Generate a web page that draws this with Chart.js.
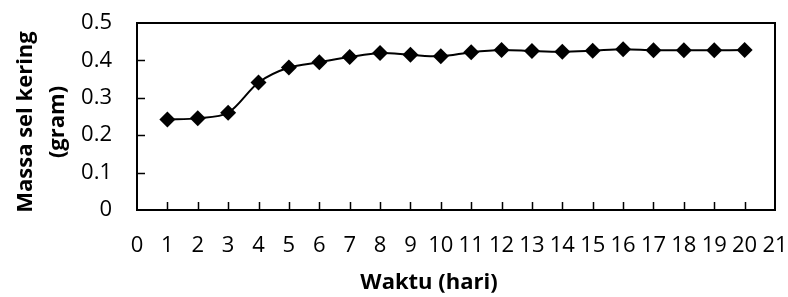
<!DOCTYPE html>
<html>
<head>
<meta charset="utf-8">
<script src="https://cdn.jsdelivr.net/npm/chart.js@4/dist/chart.umd.min.js"></script>
<style>
  html, body { margin: 0; padding: 0; background: #ffffff; }
  #wrap { width: 788px; height: 297px; position: relative; }
</style>
</head>
<body>
<div id="wrap"><canvas id="c" width="788" height="297"></canvas></div>
<script>
// ---- data ----
const days = [1, 2, 3, 4, 5, 6, 7, 8, 9, 10, 11, 12, 13, 14, 15, 16, 17, 18, 19, 20];
const dryMass = [0.242, 0.245, 0.260, 0.341, 0.381, 0.395, 0.409, 0.420, 0.415, 0.411,
                 0.422, 0.428, 0.425, 0.423, 0.426, 0.430, 0.427, 0.427, 0.427, 0.428];
const xTickLabels = ['0','1','2','3','4','5','6','7','8','9','10','11','12','13','14','15','16','17','18','19','20','21'];
const yTickLabels = ['0','0.1','0.2','0.3','0.4','0.5'];
const xTitle = 'Waktu (hari)';
const yTitle = ['Massa sel kering', '(gram)'];

const FONT = "'Open Sans', 'Noto Sans', sans-serif";

const points = days.map((d, i) => ({ x: d, y: dryMass[i] }));

function noOverflow(s) {
  s.paddingTop = 0; s.paddingBottom = 0; s.paddingLeft = 0; s.paddingRight = 0;
}

const framePlugin = {
  id: 'frame',
  beforeDatasetsDraw(chart) {
    const { ctx, chartArea: a, scales } = chart;
    ctx.save();
    ctx.strokeStyle = '#000';
    ctx.lineWidth = 2;
    ctx.strokeRect(a.left, a.top, a.right - a.left, a.bottom - a.top);
    ctx.lineWidth = 1.5;
    ctx.beginPath();
    scales.x.ticks.forEach(t => {
      if (t.value <= scales.x.min || t.value >= scales.x.max) return;
      const px = Math.round(scales.x.getPixelForValue(t.value)) + 0.5;
      ctx.moveTo(px, a.bottom);
      ctx.lineTo(px, a.bottom - 8);
    });
    scales.y.ticks.forEach(t => {
      if (t.value <= scales.y.min + 1e-9 || t.value >= scales.y.max - 1e-9) return;
      const py = Math.round(scales.y.getPixelForValue(t.value)) + 0.5;
      ctx.moveTo(a.left, py);
      ctx.lineTo(a.left + 8, py);
    });
    ctx.stroke();
    ctx.restore();
  },
  afterDraw(chart) {
    const { ctx } = chart;
    ctx.save();
    ctx.fillStyle = '#000';
    ctx.font = "bold 22px " + FONT;
    ctx.textAlign = 'center';
    ctx.textBaseline = 'middle';
    ctx.fillText(xTitle, 429, 283);
    // y-axis title, two rotated lines
    ctx.translate(0, 122);
    ctx.rotate(-Math.PI / 2);
    ctx.fillText(yTitle[0], 0, 26);
    ctx.fillText(yTitle[1], 0, 58);
    ctx.restore();
  }
};

new Chart(document.getElementById('c'), {
  type: 'line',
  data: {
    datasets: [{
      data: points,
      borderColor: '#000',
      backgroundColor: '#000',
      borderWidth: 2,
      tension: 0.3,
      pointStyle: 'rectRot',
      pointRadius: 8,
      pointHoverRadius: 8,
      pointBackgroundColor: '#000',
      pointBorderColor: '#000',
      pointBorderWidth: 0,
      fill: false
    }]
  },
  options: {
    responsive: false,
    animation: false,
    events: [],
    layout: { padding: { top: 23, right: 13, left: 0, bottom: 0 } },
    plugins: { legend: { display: false }, tooltip: { enabled: false } },
    scales: {
      x: {
        type: 'linear',
        min: 0, max: 21,
        afterFit(s) { s.height = 87; noOverflow(s); },
        border: { display: false },
        grid: { display: false, drawTicks: false },
        ticks: {
          stepSize: 1,
          autoSkip: false,
          maxRotation: 0,
          padding: 23,
          color: '#000',
          font: { family: FONT, size: 22 },
          callback: (v, i) => xTickLabels[i]
        }
      },
      y: {
        min: 0, max: 0.5,
        afterFit(s) { s.width = 137; noOverflow(s); },
        border: { display: false },
        grid: { display: false, drawTicks: false },
        ticks: {
          stepSize: 0.1,
          padding: 25,
          color: '#000',
          font: { family: FONT, size: 22 },
          callback: (v, i) => yTickLabels[i]
        }
      }
    }
  },
  plugins: [framePlugin]
});
</script>
</body>
</html>
